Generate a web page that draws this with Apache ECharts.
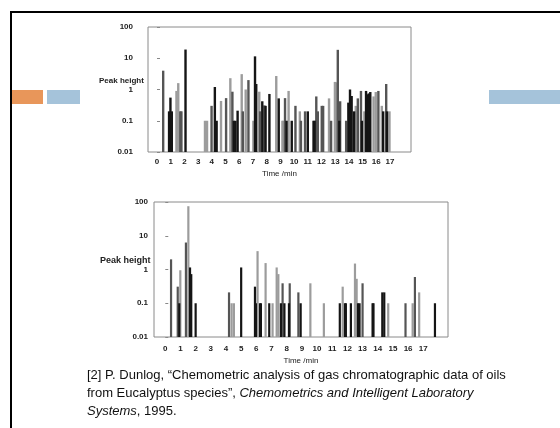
<!DOCTYPE html>
<html>
<head>
<meta charset="utf-8">
<style>
  html, body { margin: 0; padding: 0; background: #ffffff; }
  #chart { width: 560px; height: 428px; }
</style>
<script src="https://cdn.jsdelivr.net/npm/echarts@6/dist/echarts.min.js"></script>
</head>
<body>
<div id="chart"></div>
<script>
// ---- Data (time in min, peak height) ----
const timeTickLabels = [0,1,2,3,4,5,6,7,8,9,10,11,12,13,14,15,16,17];
const yTickLabels = ['0.01','0.1','1','10','100'];

// Top chromatogram
const topBlack = [
  [0.88,0.2],[0.98,0.55],[1.08,0.2],[2.08,19],[4.22,1.2],[4.35,0.1],[5.6,0.1],[5.72,0.1],
  [5.88,0.21],[7.15,11.5],[7.24,1.5],[7.68,0.42],[7.92,0.3],[8.2,0.72],[8.88,0.52],[9.45,0.1],
  [9.83,0.1],[11.0,0.2],[11.42,0.1],[11.5,0.1],[13.3,0.1],[13.96,0.38],[14.08,1.0],[14.2,0.62],
  [14.38,0.2],[14.95,0.1],[15.25,0.9],[15.35,0.7],[15.45,0.75],[15.56,0.83],[16.5,0.2],[16.78,0.2]
];
const topDark = [
  [0.45,4.0],[1.7,0.2],[1.78,0.2],[3.98,0.3],[5.04,0.53],[5.5,0.85],[6.26,0.2],[6.67,2.0],
  [7.52,0.2],[7.83,0.31],[9.34,0.53],[10.1,0.3],[10.5,0.1],[10.8,0.2],[11.62,0.6],[11.73,0.2],
  [12.02,0.3],[12.12,0.3],[12.7,0.1],[13.19,18.6],[13.36,0.42],[13.8,0.1],[14.65,0.52],
  [14.88,0.9],[16.15,0.9],[16.72,1.5]
];
const topLight = [
  [1.42,0.9],[1.55,1.6],[3.5,0.1],[3.65,0.1],[4.67,0.43],[5.35,2.3],[6.18,3.1],[6.47,1.0],
  [7.03,0.1],[7.46,0.85],[8.7,2.7],[9.15,0.1],[9.22,0.1],[9.6,0.9],[10.42,0.2],[12.55,0.52],
  [12.98,1.75],[13.1,1.7],[14.5,0.3],[15.13,0.2],[15.8,0.6],[15.96,0.83],[16.4,0.3],[16.96,0.2]
];

// Bottom chromatogram
const botBlack = [
  [0.92,0.1],[1.63,1.15],[1.71,0.73],[2.0,0.1],[5.0,1.15],[5.91,0.31],[5.97,0.1],[6.24,0.1],
  [6.3,0.1],[6.85,0.1],[7.62,0.1],[7.85,0.1],[8.15,0.1],[8.92,0.1],[11.5,0.1],[11.84,0.1],
  [11.9,0.1],[12.23,0.1],[12.7,0.1],[12.8,0.1],[13.66,0.1],[13.72,0.1],[14.3,0.21],[14.43,0.21],
  [17.77,0.1]
];
const botDark = [
  [0.38,2.0],[0.82,0.31],[1.36,6.3],[4.2,0.21],[7.73,0.39],[8.2,0.39],[8.77,0.21],
  [13.0,0.39],[15.83,0.1],[16.45,0.6]
];
const botLight = [
  [0.99,0.95],[1.52,75],[4.37,0.1],[4.52,0.1],[6.08,3.5],[6.61,1.55],[7.07,0.1],[7.34,1.15],
  [7.45,0.73],[9.56,0.39],[10.45,0.1],[11.69,0.31],[12.5,1.5],[12.61,0.53],[14.69,0.1],
  [16.3,0.1],[16.73,0.21]
];

// ---- Rendering ----
const chart = echarts.init(document.getElementById('chart'), null, { renderer: 'canvas' });
const FONT = 'Liberation Sans, Arial, sans-serif';

function barRenderer(width) {
  return function (params, api) {
    const x = api.value(0), y = api.value(1);
    const top = api.coord([x, y]);
    const base = api.coord([x, 0.01]);
    return {
      type: 'rect',
      shape: { x: top[0] - width / 2, y: top[1], width: width, height: base[1] - top[1] },
      style: { fill: api.visual('color') }
    };
  };
}

function xAxisFor(gridIndex, min, max, margin, nameGap) {
  return {
    type: 'value', gridIndex: gridIndex, min: min, max: max,
    name: 'Time /min', nameLocation: 'middle', nameGap: nameGap,
    nameTextStyle: { fontFamily: FONT, fontSize: 8, color: '#222' },
    axisLine: { show: false }, axisTick: { show: false }, splitLine: { show: false },
    axisLabel: {
      customValues: timeTickLabels, margin: margin,
      fontFamily: FONT, fontSize: 8, fontWeight: 'bold', color: '#222'
    }
  };
}
function yAxisFor(gridIndex, margin) {
  return {
    type: 'log', logBase: 10, gridIndex: gridIndex, min: 0.01, max: 100,
    axisLine: { show: false },
    axisTick: { show: true, inside: true, length: 3, lineStyle: { color: '#888' } },
    minorTick: { show: false }, splitLine: { show: false },
    axisLabel: {
      margin: margin, fontFamily: FONT, fontSize: 8, fontWeight: 'bold', color: '#222',
      formatter: function (v) { return yTickLabels[Math.round(Math.log10(v)) + 2]; }
    }
  };
}
function series(data, xi, color, width) {
  return {
    type: 'custom', xAxisIndex: xi, yAxisIndex: xi, data: data,
    encode: { x: 0, y: 1 }, itemStyle: { color: color },
    renderItem: barRenderer(width), silent: true, animation: false
  };
}

const C_BLACK = '#151515', C_DARK = '#555555', C_LIGHT = '#9c9c9c';

const option = {
  backgroundColor: '#ffffff',
  animation: false,
  grid: [
    { left: 148, top: 27, width: 263, height: 125, show: true, borderColor: '#8a8a8a', borderWidth: 1 },
    { left: 154, top: 202, width: 294, height: 135, show: true, borderColor: '#8a8a8a', borderWidth: 1 }
  ],
  xAxis: [
    xAxisFor(0, -0.657, 18.53, 6, 18),
    xAxisFor(1, -0.744, 18.63, 8, 20)
  ],
  yAxis: [ yAxisFor(0, 15), yAxisFor(1, 6) ],
  series: [
    series(topLight, 0, C_LIGHT, 2.4), series(topDark, 0, C_DARK, 2.4), series(topBlack, 0, C_BLACK, 2.4),
    series(botLight, 1, C_LIGHT, 2.2), series(botDark, 1, C_DARK, 2.2), series(botBlack, 1, C_BLACK, 2.2)
  ],
  graphic: [
    // slide frame
    { type: 'rect', shape: { x: 10, y: 11, width: 550, height: 2 }, style: { fill: '#000' }, silent: true },
    { type: 'rect', shape: { x: 10, y: 11, width: 2, height: 417 }, style: { fill: '#000' }, silent: true },
    // accent bars
    { type: 'rect', shape: { x: 12, y: 90, width: 31, height: 14 }, style: { fill: '#E8965A' }, silent: true },
    { type: 'rect', shape: { x: 47, y: 90, width: 33, height: 14 }, style: { fill: '#A5C3DA' }, silent: true },
    { type: 'rect', shape: { x: 489, y: 90, width: 71, height: 14 }, style: { fill: '#A5C3DA' }, silent: true },
    // axis titles
    { type: 'text', x: 99, y: 81, style: { text: 'Peak height', fontFamily: FONT, fontSize: 8, fontWeight: 'bold', fill: '#222', verticalAlign: 'middle' }, silent: true },
    { type: 'text', x: 100, y: 261, style: { text: 'Peak height', fontFamily: FONT, fontSize: 9, fontWeight: 'bold', fill: '#222', verticalAlign: 'middle' }, silent: true },
    // citation
    { type: 'text', x: 87, y: 375, style: { text: '[2] P. Dunlog, “Chemometric analysis of gas chromatographic data of oils', fontFamily: FONT, fontSize: 13, fill: '#111', verticalAlign: 'middle' }, silent: true },
    { type: 'text', x: 87, y: 393, style: {
        text: '{n|from Eucalyptus species”, }{i|Chemometrics and Intelligent Laboratory}',
        verticalAlign: 'middle',
        rich: { n: { fontFamily: FONT, fontSize: 13, fill: '#111' }, i: { fontFamily: FONT, fontSize: 13, fontStyle: 'italic', fill: '#111' } }
      }, silent: true },
    { type: 'text', x: 87, y: 411, style: {
        text: '{i|Systems}{n|, 1995.}',
        verticalAlign: 'middle',
        rich: { n: { fontFamily: FONT, fontSize: 13, fill: '#111' }, i: { fontFamily: FONT, fontSize: 13, fontStyle: 'italic', fill: '#111' } }
      }, silent: true }
  ]
};
chart.setOption(option);
</script>
</body>
</html>
